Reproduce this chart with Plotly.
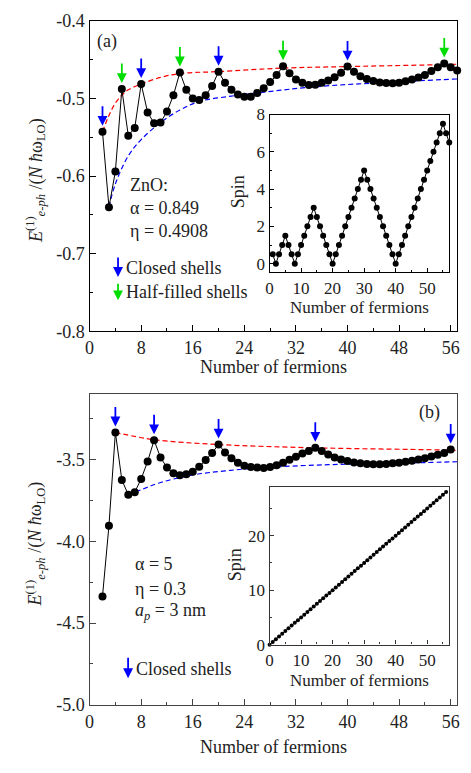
import plotly.graph_objects as go

# ---------------- data ----------------
n_a = list(range(2, 58))
e_a = [-0.543, -0.640, -0.594, -0.488, -0.548, -0.538, -0.4815, -0.518, -0.532, -0.531,
       -0.517, -0.496, -0.4665, -0.489, -0.500, -0.502, -0.496, -0.484, -0.4656, -0.480,
       -0.489, -0.495, -0.498, -0.498, -0.493, -0.487, -0.479, -0.470, -0.4585, -0.4677,
       -0.4756, -0.480, -0.4828, -0.4825, -0.480, -0.477, -0.4727, -0.4669, -0.459, -0.4656,
       -0.4715, -0.475, -0.4777, -0.4794, -0.4802, -0.4806, -0.480, -0.478, -0.4756, -0.473,
       -0.470, -0.4648, -0.4598, -0.4552, -0.4598, -0.464]

upper_a_x = [2, 3, 4, 5, 6, 8, 11, 14, 20, 30, 40, 55, 57]
upper_a_y = [-0.543, -0.522, -0.506, -0.496, -0.489, -0.4815, -0.473, -0.468, -0.4655,
             -0.461, -0.459, -0.4565, -0.456]
lower_a_x = [3, 4, 6, 8, 11, 14, 17, 22, 27, 35, 47, 57]
lower_a_y = [-0.640, -0.610, -0.574, -0.553, -0.531, -0.515, -0.504, -0.497, -0.492,
             -0.485, -0.479, -0.475]

closed_a = [2, 8, 20, 40]
half_a = [5, 14, 30, 55]

n_b = list(range(2, 57))
e_b = [-4.337, -3.905, -3.335, -3.625, -3.716, -3.70, -3.619, -3.512, -3.383, -3.488,
       -3.55, -3.585, -3.597, -3.591, -3.575, -3.544, -3.504, -3.460, -3.409, -3.457,
       -3.492, -3.52, -3.538, -3.546, -3.55, -3.552, -3.546, -3.536, -3.52, -3.502,
       -3.484, -3.464, -3.448, -3.429, -3.448, -3.470, -3.488, -3.5, -3.51, -3.518,
       -3.524, -3.528, -3.53, -3.53, -3.528, -3.524, -3.52, -3.514, -3.508, -3.5,
       -3.492, -3.482, -3.472, -3.46, -3.44]

upper_b_x = [4, 10, 20, 35, 56, 57]
upper_b_y = [-3.335, -3.379, -3.409, -3.429, -3.443, -3.445]
lower_b_x = [6, 8, 11, 16, 21, 27, 37, 47, 57]
lower_b_y = [-3.716, -3.685, -3.641, -3.595, -3.57, -3.55, -3.532, -3.524, -3.514]

closed_b = [4, 10, 20, 35, 56]

n_ia = list(range(1, 58))
spin_a = [0.5, 0,
          0.5, 1, 1.5, 1, 0.5, 0,
          0.5, 1, 1.5, 2, 2.5, 3, 2.5, 2, 1.5, 1, 0.5, 0,
          0.5, 1, 1.5, 2, 2.5, 3, 3.5, 4, 4.5, 5, 4.5, 4, 3.5, 3, 2.5, 2, 1.5, 1, 0.5, 0,
          0.5, 1, 1.5, 2, 2.5, 3, 3.5, 4, 4.5, 5, 5.5, 6, 6.5, 7, 7.5, 7, 6.5]

n_ib = list(range(0, 57))
spin_b = [0, 0.5, 1, 1.5, 2, 2.5, 3, 3.5, 4, 4.5, 5, 5.5, 6, 6.5, 7, 7.5, 8, 8.5, 9, 9.5,
          10, 10.5, 11, 11.5, 12, 12.5, 13, 13.5, 14, 14.5, 15, 15.5, 16, 16.5, 17, 17.5,
          18, 18.5, 19, 19.5, 20, 20.5, 21, 21.5, 22, 22.5, 23, 23.5, 24, 24.5, 25, 25.5,
          26, 26.5, 27, 27.5, 28]

xticks_main = [0, 8, 16, 24, 32, 40, 48, 56]
yticks_a = [-0.8, -0.7, -0.6, -0.5, -0.4]
yticks_a_text = ["-0.8", "-0.7", "-0.6", "-0.5", "-0.4"]
yticks_b = [-5.0, -4.5, -4.0, -3.5]
yticks_b_text = ["-5.0", "-4.5", "-4.0", "-3.5"]

# ---------------- layout helpers ----------------
W, H = 471, 773
FONT = "Liberation Serif"
TXT = "#222222"


def fx(p):
    return p / W


def fy(p):
    return 1 - p / H


fig = go.Figure()

mk_main = dict(color="black", size=8)
ln_main = dict(color="black", width=1)
DASH = "5px,3px"

# panel a
fig.add_trace(go.Scatter(x=upper_a_x, y=upper_a_y, mode="lines", line=dict(color="#ff0000", width=1.2, dash=DASH, shape="spline"), xaxis="x", yaxis="y", showlegend=False))
fig.add_trace(go.Scatter(x=lower_a_x, y=lower_a_y, mode="lines", line=dict(color="#0000ff", width=1.2, dash=DASH, shape="spline"), xaxis="x", yaxis="y", showlegend=False))
fig.add_trace(go.Scatter(x=n_a, y=e_a, mode="lines+markers", line=ln_main, marker=mk_main, xaxis="x", yaxis="y", showlegend=False, cliponaxis=False))

# panel b
fig.add_trace(go.Scatter(x=upper_b_x, y=upper_b_y, mode="lines", line=dict(color="#ff0000", width=1.2, dash=DASH, shape="spline"), xaxis="x2", yaxis="y2", showlegend=False))
fig.add_trace(go.Scatter(x=lower_b_x, y=lower_b_y, mode="lines", line=dict(color="#0000ff", width=1.2, dash=DASH, shape="spline"), xaxis="x2", yaxis="y2", showlegend=False))
fig.add_trace(go.Scatter(x=n_b, y=e_b, mode="lines+markers", line=ln_main, marker=mk_main, xaxis="x2", yaxis="y2", showlegend=False, cliponaxis=False))

# inset a
fig.add_trace(go.Scatter(x=n_ia, y=spin_a, mode="lines+markers", line=dict(color="black", width=1), marker=dict(color="black", size=6), xaxis="x3", yaxis="y3", showlegend=False, cliponaxis=False))
# inset b
fig.add_trace(go.Scatter(x=n_ib, y=spin_b, mode="lines+markers", line=dict(color="black", width=1), marker=dict(color="black", size=4), xaxis="x4", yaxis="y4", showlegend=False, cliponaxis=False))

tickfont = dict(family=FONT, size=18, color=TXT)
tickfont_in = dict(family=FONT, size=17, color=TXT)


def axis(domain, rng, anchor, color="black", **kw):
    d = dict(domain=domain, range=rng, anchor=anchor, showgrid=False, zeroline=False,
             showline=True, linecolor=color, linewidth=1.3, mirror=True,
             ticks="inside", ticklen=6, tickcolor=color, tickwidth=1,
             tickfont=tickfont)
    d.update(kw)
    return d


xdom_main = [fx(86.7), fx(459)]
xdom_in = [fx(269), fx(451)]

fig.update_layout(
    width=W, height=H, margin=dict(l=0, r=0, t=0, b=0),
    paper_bgcolor="white", plot_bgcolor="rgba(0,0,0,0)",
    xaxis=axis(xdom_main, [0, 57], "y", tickvals=xticks_main,
               minor=dict(dtick=4, tick0=0, ticks="inside", ticklen=3, tickcolor="black")),
    yaxis=axis([fy(330), fy(11)], [-0.8, -0.4], "x", tickvals=yticks_a, ticktext=yticks_a_text,
               minor=dict(dtick=0.05, tick0=-0.8, ticks="inside", ticklen=3, tickcolor="black")),
    xaxis2=axis(xdom_main, [0, 57], "y2", "#444444", tickvals=xticks_main,
                minor=dict(dtick=4, tick0=0, ticks="inside", ticklen=3, tickcolor="#444444")),
    yaxis2=axis([fy(713.3), fy(394.2)], [-5.0, -3.1], "x2", "#444444", tickvals=yticks_b, ticktext=yticks_b_text,
                minor=dict(dtick=0.25, tick0=-5.0, ticks="inside", ticklen=3, tickcolor="#444444")),
    xaxis3=axis(xdom_in, [0, 57], "y3", tickvals=[0, 10, 20, 30, 40, 50], ticklen=4, tickfont=tickfont_in,
                minor=dict(dtick=5, tick0=0, ticks="inside", ticklen=2, tickcolor="black")),
    yaxis3=axis([fy(269), fy(107.3)], [-0.45, 8], "x3", tickvals=[0, 2, 4, 6, 8], ticklen=4, tickfont=tickfont_in,
                minor=dict(dtick=1, tick0=0, ticks="inside", ticklen=2, tickcolor="black")),
    xaxis4=axis(xdom_in, [0, 57], "y4", "#333333", tickvals=[0, 10, 20, 30, 40, 50], ticklen=4, tickfont=tickfont_in,
                minor=dict(dtick=5, tick0=0, ticks="inside", ticklen=2, tickcolor="#333333")),
    yaxis4=axis([fy(651.5), fy(489.3)], [0, 29], "x4", "#333333", tickvals=[0, 10, 20], ticklen=4, tickfont=tickfont_in,
                minor=dict(dtick=5, tick0=0, ticks="inside", ticklen=2, tickcolor="#333333")),
)

ann = []


def text(px, py, s, xanchor="left", size=18, angle=0):
    ann.append(dict(x=fx(px), y=fy(py), xref="paper", yref="paper", text=s, showarrow=False,
                    xanchor=xanchor, yanchor="middle", textangle=angle,
                    font=dict(family=FONT, size=size, color=TXT)))


def data_arrow(xr, yr, x, y, color):
    ann.append(dict(x=x, y=y, xref=xr, yref=yr, text="", showarrow=True, ax=0, ay=-27,
                    standoff=6, arrowhead=2, arrowsize=1.1, arrowwidth=1.8, arrowcolor=color))


def paper_arrow(px, py_top, py_bot, color):
    ann.append(dict(x=fx(px), y=fy(py_bot), xref="paper", yref="paper", text="", showarrow=True,
                    ax=0, ay=-(py_bot - py_top), arrowhead=2, arrowsize=1.1, arrowwidth=1.8,
                    arrowcolor=color))


BLUE = "#0000ff"
GREEN = "#00dd00"

for n in closed_a:
    data_arrow("x", "y", n, e_a[n_a.index(n)], BLUE)
for n in half_a:
    data_arrow("x", "y", n, e_a[n_a.index(n)], GREEN)
for n in closed_b:
    data_arrow("x2", "y2", n, e_b[n_b.index(n)], BLUE)

ytitle = "<i>E</i><sup>(1)</sup><sub><i>e-ph</i></sub> /(<i>N</i> <i>ħ</i>ω<sub>LO</sub>)"

# panel a texts
text(92, 32, "(a)")
text(126, 180, "ZnO:")
text(126, 203, "α = 0.849")
text(126, 227, "η = 0.4908")
paper_arrow(115.5, 253, 274, BLUE)
text(122, 265, "Closed shells")
paper_arrow(115.5, 280, 298, GREEN)
text(122, 290, "Half-filled shells")
text(272.8, 366, "Number of fermions", xanchor="center")
text(32, 175, ytitle, xanchor="center", angle=-90)
text(360, 305, "Number of fermions", xanchor="center", size=17)
text(237, 186, "Spin", xanchor="center", angle=-90)

# panel b texts
text(418, 413, "(b)")
text(131, 569, "α = 5")
text(131, 594, "η = 0.3")
text(131, 617, "<i>a</i><sub><i>p</i></sub> = 3 nm")
paper_arrow(125.7, 664, 686, BLUE)
text(132, 676, "Closed shells")
text(272.8, 757, "Number of fermions", xanchor="center")
text(32, 548, ytitle, xanchor="center", angle=-90)
text(360, 688, "Number of fermions", xanchor="center", size=17)
text(234, 570, "Spin", xanchor="center", angle=-90)

fig.update_layout(annotations=ann)

fig.write_html("out.html")
